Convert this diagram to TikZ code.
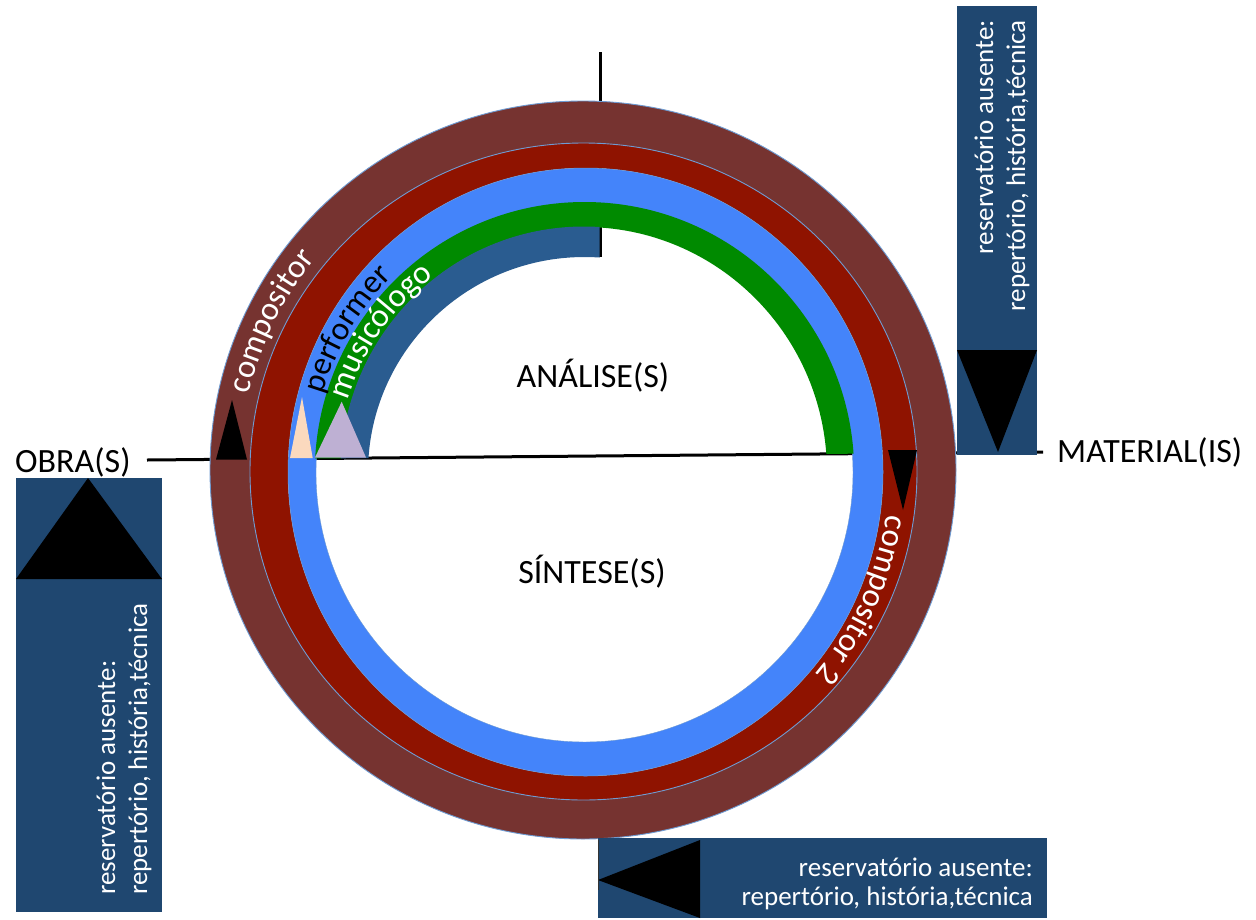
\documentclass[tikz,border=0pt]{standalone}
\usepackage{fontspec}
\setmainfont{Carlito}
\usetikzlibrary{decorations.text}
\definecolor{brownring}{RGB}{118,51,48}
\definecolor{redring}{RGB}{143,19,0}
\definecolor{bluering}{RGB}{68,132,250}
\definecolor{greenring}{RGB}{0,138,0}
\definecolor{navyarc}{RGB}{42,92,144}
\definecolor{boxnavy}{RGB}{31,71,112}
\definecolor{peach}{RGB}{251,217,190}
\definecolor{lilac}{RGB}{190,176,211}
\definecolor{ringedge}{RGB}{110,155,210}
\tikzset{
  axisline/.style={line width=3pt, black},
  ringfill/.style={even odd rule},
  ringline/.style={draw=ringedge, line width=0.9pt},
  bigtext/.style={font=\fontsize{34}{40}\selectfont, inner sep=0pt},
  boxtext/.style={text=white, font=\fontsize{27}{32}\selectfont, inner sep=0pt},
  boxtexttight/.style={text=white, font=\fontsize{27}{29}\selectfont, inner sep=0pt},
  boxshape/.style={fill=boxnavy},
  tri/.style={fill=black}
}
\begin{document}
\begin{tikzpicture}[x=1pt,y=-1pt]
\useasboundingbox (0,0) rectangle (1256,919);
\fill[white] (0,0) rectangle (1256,919);

% axes (behind the rings)
\coordinate (axL) at (147,460);
\coordinate (axR) at (1043,452);
\coordinate (axT) at (600,52);
\coordinate (axB) at (600,257);
\draw[axisline] (axL) -- (axR);
\draw[axisline] (axT) -- (axB);

% rings
\fill[brownring, ringfill] (583,470) ellipse [x radius=373, y radius=369]
      (583.5,471.5) ellipse [x radius=333.5, y radius=328.5];
\fill[redring, ringfill] (583.5,471.5) ellipse [x radius=333.5, y radius=328.5]
      (585.5,472) ellipse [x radius=297.5, y radius=304];
\fill[bluering, ringfill] (585.5,472) ellipse [x radius=297.5, y radius=304]
      (584.5,472.5) ellipse [x radius=268.5, y radius=269.5];
\draw[ringline] (583,470) ellipse [x radius=373, y radius=369];
\draw[ringline] (583.5,471.5) ellipse [x radius=333.5, y radius=328.5];
\draw[ringedge, line width=0.5pt] (585.5,472) ellipse [x radius=297.5, y radius=304];
\draw[ringedge, line width=0.4pt] (584.5,472.5) ellipse [x radius=268.5, y radius=269.5];

% green half ring
\begin{scope}
  \clip (0,0) -- (1256,0) -- (1256,450.1) -- (0,461.3) -- cycle;
  \fill[greenring, ringfill] (584.5,472.5) ellipse [x radius=269.7, y radius=270.5]
        (584,472.5) ellipse [x radius=243, y radius=245.5];
\end{scope}
% navy quarter ring
\begin{scope}
  \clip (0,0) -- (599.5,0) -- (599.5,456) -- (0,461.3) -- cycle;
  \fill[navyarc, ringfill] (584,472.5) ellipse [x radius=243.5, y radius=246]
        (584.5,472.5) ellipse [x radius=216.5, y radius=215.5];
\end{scope}

% small triangles on the axis
\fill[tri] (232,400) -- (247,459.5) -- (216,459.5) -- cycle;
\fill[peach] (302,397) -- (312.7,458) -- (290,458) -- cycle;
\fill[lilac] (341.7,401.7) -- (366,457.5) -- (315,457.5) -- cycle;
\fill[tri] (888,450) -- (917,450) -- (903,510) -- cycle;

% ring texts
\path[decorate, decoration={text along path, text align=left,
   text={|\fontsize{33}{33}\selectfont\color{white}|compositor}}]
   (248.8,394.5) arc [start angle=-167, end angle=-115, x radius=343, y radius=340];
\path[decorate, decoration={text along path, text align=left,
   text={|\fontsize{33}{33}\selectfont\color{black}|performer}}]
   (322.7,394.3) arc [start angle=-163.5, end angle=-115, x radius=273, y radius=276];
\path[decorate, decoration={text along path, text align=left,
   text={|\fontsize{33}{33}\selectfont\color{white}|musicólogo}}]
   (347.8,400.3) arc [start angle=-163, end angle=-110, x radius=247, y radius=247];
\path[decorate, decoration={text along path, text align=left,
   text={|\fontsize{33}{33}\selectfont\color{white}|compositor 2}}]
   (886.5,514.9) arc [start angle=8, end angle=60, x radius=305, y radius=308];

% reservoir boxes
\fill[boxshape] (957,6) rectangle (1037,455);
\fill[tri] (957,350) -- (1037,350) -- (998,452) -- cycle;
\node[boxtext, rotate=90, anchor=east, align=right] (boxR) at (1002,20)
  {reservatório ausente:\\repertório, história,técnica};

\fill[boxshape] (16,478) rectangle (162,912);
\fill[tri] (16,579) -- (162,579) -- (88,478) -- cycle;
\node[boxtext, rotate=90, anchor=west, align=left] (boxL) at (124,895)
  {reservatório ausente:\\repertório, história,técnica};

\fill[boxshape] (598,838) rectangle (1047,918);
\fill[tri] (700,840) -- (700,918) -- (598,880) -- cycle;
\draw[black!80, line width=1.5pt] (598.5,840) -- (598.5,890);
\node[boxtexttight, anchor=east, align=right] (boxB) at (1033,884)
  {reservatório ausente:\\repertório, história,técnica};

% main labels
\node[bigtext, anchor=base] (ana) at (593,387) {ANÁLISE(S)};
\node[bigtext, anchor=base] (sin) at (592,583) {SÍNTESE(S)};
\node[bigtext, anchor=base west] (obra) at (15,472) {OBRA(S)};
\node[bigtext, anchor=base west] (mat) at (1057,462) {MATERIAL(IS)};
\end{tikzpicture}
\end{document}
